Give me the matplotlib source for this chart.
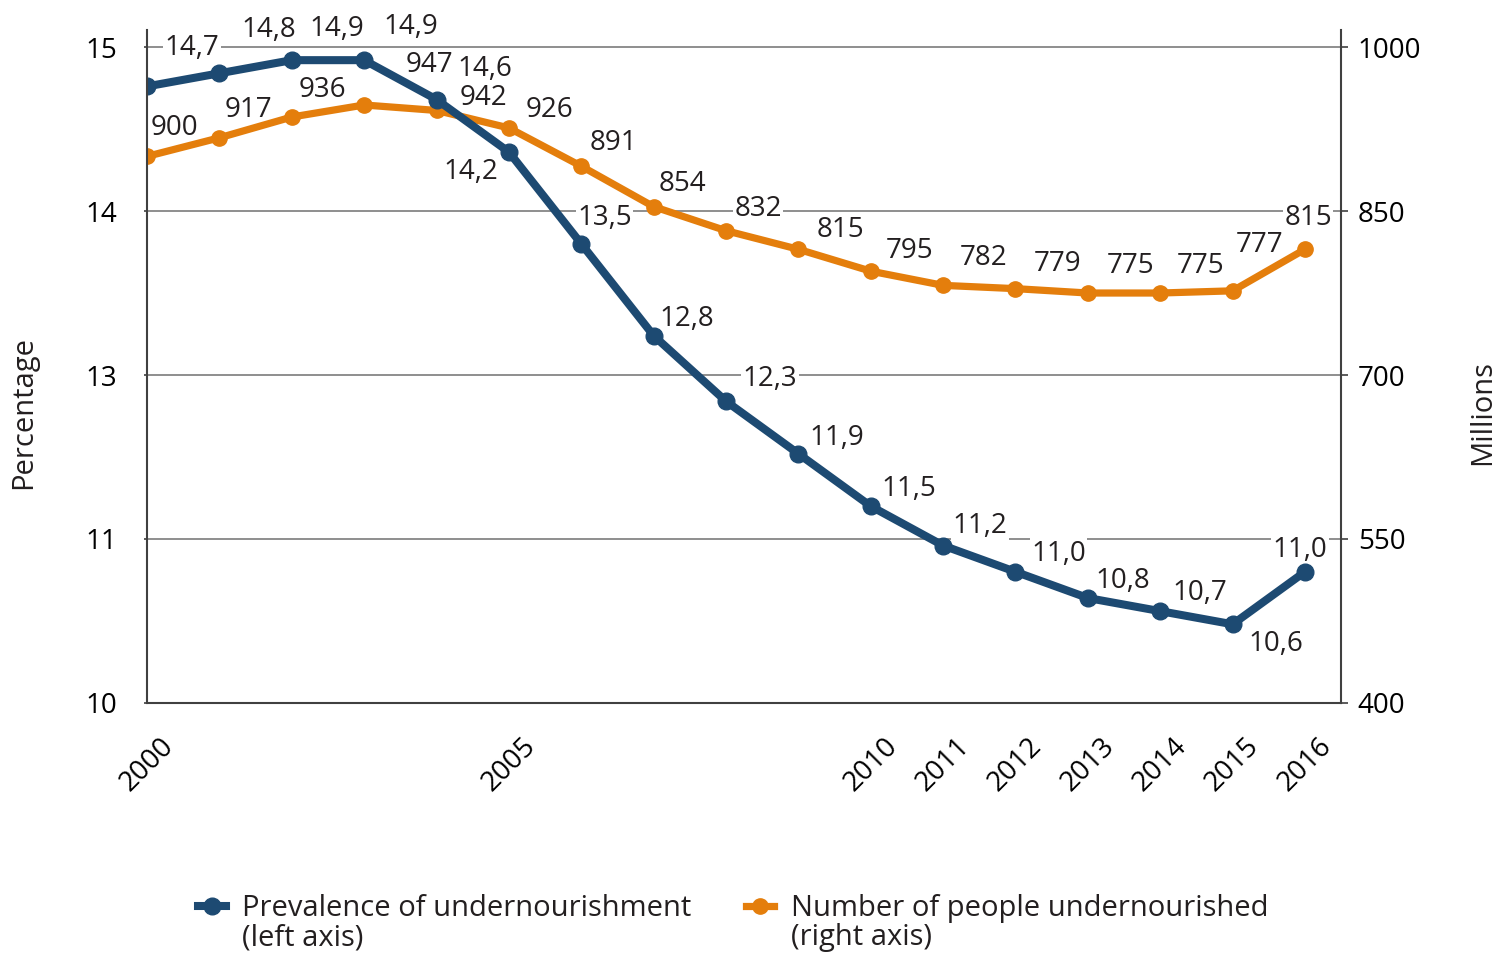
import numpy as np
import matplotlib.pyplot as plt
from matplotlib.lines import Line2D
from matplotlib.ticker import FixedLocator

plt.rcParams['font.family'] = ['Open Sans', 'DejaVu Sans']
plt.rcParams['font.size'] = 20
plt.rcParams['text.color'] = '#231f20'

# Undernourishment, 2000-2016
years = list(range(2000, 2017))
prevalence = [14.7, 14.8, 14.9, 14.9, 14.6, 14.2, 13.5, 12.8, 12.3, 11.9,
              11.5, 11.2, 11.0, 10.8, 10.7, 10.6, 11.0]
undernourished = [900, 917, 936, 947, 942, 926, 891, 854, 832, 815,
                  795, 782, 779, 775, 775, 777, 815]

year_ticks = [2000, 2005, 2010, 2011, 2012, 2013, 2014, 2015, 2016]
left_ticks = [10, 11.25, 12.5, 13.75, 15]
left_tick_labels = ['10', '11', '13', '14', '15']
right_ticks = [400, 550, 700, 850, 1000]

series_names = ['Prevalence of undernourishment\n(left axis)',
                'Number of people undernourished\n(right axis)']

# label offsets in pixels (dx, dy) from each point
prev_offsets = [(45, 38), (49, 43), (45, 31), (47, 33), (48, 31), (-38, -20),
                (23, 26), (33, 17), (44, 22), (38, 16), (38, 17), (37, 20),
                (43, 18), (35, 17), (40, 18), (43, -20), (-5, 22)]
num_offsets = [(27, 28), (29, 28), (31, 27), (65, 40), (47, 12), (41, 18),
               (32, 23), (29, 23), (32, 22), (42, 19), (39, 20), (40, 27),
               (42, 25), (43, 27), (40, 27), (27, 46), (3, 31)]

navy = '#1d4a72'
orange = '#e47e0c'
spine_col = '#404040'
grid_col = '#707070'

fig = plt.figure(figsize=(14.99, 9.55), dpi=100)
ax = fig.add_axes([0.0981, 0.2639, 0.7966, 0.7047])
ax2 = ax.twinx()
ax.set_zorder(ax2.get_zorder() + 1)
ax.patch.set_visible(False)

top_pad = 0.026
ax.set_ylim(10, 15 + 5 * top_pad)
ax2.set_ylim(400, 1000 + 600 * top_pad)
ax.set_xlim(2000, 2016.5)

# gridlines live on the lower axes so the label boxes can cover them
ax2.yaxis.set_major_locator(FixedLocator(right_ticks))
ax2.grid(axis='y', color=grid_col, lw=1.1)
ax2.set_axisbelow(True)

ax2.plot(years, undernourished, color=orange, lw=5.2, marker='o', ms=11,
         solid_joinstyle='round', zorder=2)
ax.plot(years, prevalence, color=navy, lw=5.8, marker='o', ms=12,
        solid_joinstyle='round', zorder=2)

box = dict(boxstyle='square,pad=0.05', fc='white', ec='none')
for x, v, (dx, dy) in zip(years, prevalence, prev_offsets):
    ax.annotate(f'{v:.1f}'.replace('.', ','), (x, v), xytext=(dx, dy),
                textcoords='offset pixels', ha='center', va='center',
                bbox=box, zorder=1.8)
for x, v, (dx, dy) in zip(years, undernourished, num_offsets):
    ax2.annotate(f'{v}', (x, v), xytext=(dx, dy),
                 textcoords='offset pixels', ha='center', va='center',
                 bbox=box, zorder=1.8)

ax.set_yticks(left_ticks, left_tick_labels)
ax.set_xticks(year_ticks, [str(y) for y in year_ticks], rotation=45, ha='center')
ax.tick_params(axis='x', length=0, pad=21)
ax.tick_params(axis='y', direction='out', length=2, width=1.2, color=spine_col, pad=19.5)
ax2.tick_params(axis='y', direction='out', length=5, width=1.2, color=spine_col, pad=7)

for a in (ax, ax2):
    a.spines['top'].set_visible(False)
    for s in ('left', 'right', 'bottom'):
        a.spines[s].set_color(spine_col)
        a.spines[s].set_linewidth(1.5)
ax2.spines['left'].set_visible(False)
ax2.spines['bottom'].set_visible(False)
ax.spines['right'].set_visible(False)

fig.text(24 / 1499, 1 - 412 / 955, 'Percentage', rotation=90, ha='center', va='center',
         fontsize=21)
fig.text(1483 / 1499, 1 - 413 / 955, 'Millions', rotation=90, ha='center', va='center',
         fontsize=21)

# legend below the plot: short line + dot, two-line label
W, H = 1499, 955
for (x0, tx), col, lw, ms, name in zip([(198, 242), (746, 791)], [navy, orange],
                                        [5.8, 5.2], [12, 11], series_names):
    y = 1 - 906 / H
    fig.add_artist(Line2D([x0 / W, (x0 + 28) / W], [y, y], color=col, lw=lw,
                          transform=fig.transFigure))
    fig.add_artist(Line2D([(x0 + 14) / W], [y], color=col, marker='o', ms=ms,
                          transform=fig.transFigure))
    # baseline of the second line
    fig.text(tx / W, 1 - 945 / H, name, ha='left', va='baseline', fontsize=21,
             linespacing=1.0)

fig.savefig('out.png', dpi=100)
